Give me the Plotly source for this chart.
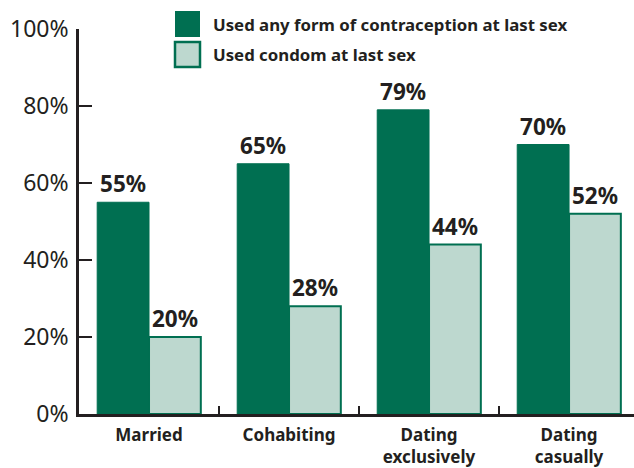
import plotly.graph_objects as go

# Data
categories = ["Married", "Cohabiting", "Dating<br>exclusively", "Dating<br>casually"]
any_contraception = [55, 65, 79, 70]
condom = [20, 28, 44, 52]
series_names = ["Used any form of contraception at last sex", "Used condom at last sex"]
y_ticks = [0, 20, 40, 60, 80, 100]
y_tick_labels = [f"{v}%" for v in y_ticks]

# Style
DARK = "#006f51"
LIGHT = "#bdd8cf"
INK = "#231f20"
FONT = "Noto Sans"

W, H = 634, 468
L, R, T, B = 79, 0, 29, 54
PW, PH = W - L - R, H - T - B


def px(x):
    return (x - L) / PW


def py(y):
    return 1 - (y - T) / PH


fig = go.Figure()
for values, name, fill, lw in [
    (any_contraception, series_names[0], DARK, 1),
    (condom, series_names[1], LIGHT, 2),
]:
    fig.add_bar(
        x=categories, y=values, name=name,
        marker=dict(color=fill, line=dict(color=DARK, width=lw)),
        text=[f"{v}%" for v in values],
        texttemplate="<b>%{text}</b>", textposition="outside",
        textfont=dict(family=FONT, size=22.5, color=INK),
        constraintext="none", cliponaxis=False, showlegend=False,
    )

# Legend swatches and labels
shapes = []
annotations = []
swatches = [(11, 37, DARK, DARK, 0), (42, 67, LIGHT, DARK, 2.5)]
for (y0, y1, fill, edge, lw), name in zip(swatches, series_names):
    shapes.append(dict(
        type="rect", xref="paper", yref="paper",
        x0=px(175), x1=px(200), y0=py(y1), y1=py(y0),
        fillcolor=fill, line=dict(color=edge, width=lw),
    ))
    annotations.append(dict(
        xref="paper", yref="paper", x=px(211), y=py((y0 + y1) / 2),
        xanchor="left", yanchor="middle", showarrow=False,
        text=f"<b>{name}</b>", font=dict(family=FONT, size=16.8, color=INK),
    ))

fig.update_layout(
    width=W, height=H,
    margin=dict(l=L, r=R, t=T, b=B, autoexpand=False),
    paper_bgcolor="white", plot_bgcolor="white",
    barmode="group", bargap=0.26, bargroupgap=0,
    shapes=shapes, annotations=annotations,
    font=dict(family=FONT, color=INK),
    xaxis=dict(
        type="category", range=[-0.5, 3.464], automargin=False,
        showline=True, linecolor=INK, linewidth=2.5,
        ticks="inside", tickson="boundaries", ticklen=8, tickwidth=2, tickcolor=INK,
        tickfont=dict(family=FONT, size=17, color=INK, weight="bold"),
        ticklabelstandoff=4,
        showgrid=False, zeroline=False,
    ),
    yaxis=dict(
        range=[0, 100], tickvals=y_ticks, ticktext=y_tick_labels, automargin=False,
        showline=True, linecolor=INK, linewidth=2.5,
        ticks="inside", ticklen=13, tickwidth=2, tickcolor=INK,
        tickfont=dict(family=FONT, size=23, color=INK),
        ticklabelstandoff=3,
        showgrid=False, zeroline=False,
    ),
)

fig.write_html("out.html")
